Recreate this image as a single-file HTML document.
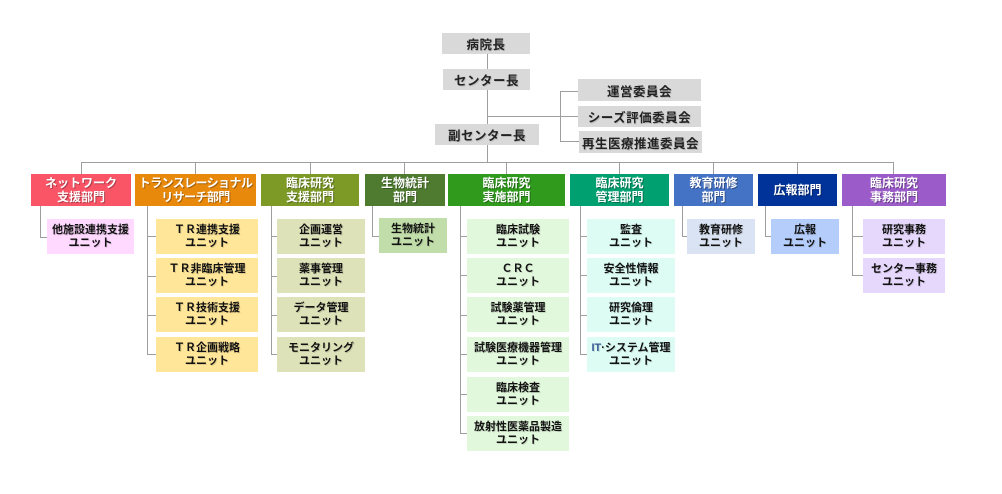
<!DOCTYPE html>
<html><head><meta charset="utf-8">
<style>
html,body{margin:0;padding:0;background:#fff;}
body{width:1002px;height:494px;position:relative;overflow:hidden;font-family:"Liberation Sans","Noto Sans CJK JP",sans-serif;font-weight:bold;}
.b{position:absolute;display:flex;align-items:center;justify-content:center;text-align:center;box-sizing:border-box;}
.top{background:#d9d9d9;color:#222;font-size:12.5px;letter-spacing:0.5px;text-shadow:1px 1px 0 rgba(0,0,0,0.12);}
.d{top:174px;height:32px;color:#fff;font-size:12px;line-height:14px;text-shadow:1px 1px 0 rgba(0,0,0,0.3);}
.u{height:35px;color:#111;font-size:11px;line-height:13px;text-shadow:1px 1px 0 rgba(0,0,0,0.12);}
.h{position:absolute;height:1px;background:#9e9e9e;}
.v{position:absolute;width:1px;background:#9e9e9e;}
</style></head><body>

<!-- top connectors -->
<div class="v" style="left:487px;top:54px;height:70px"></div>
<div class="v" style="left:487px;top:145px;height:17px"></div>
<div class="h" style="left:487px;top:116px;width:91px"></div>
<div class="v" style="left:560px;top:91px;height:50px"></div>
<div class="h" style="left:560px;top:91px;width:18px"></div>
<div class="h" style="left:560px;top:141px;width:19px"></div>
<div class="h" style="left:81px;top:162px;width:813px"></div>

<!-- drops -->
<div class="v" style="left:81px;top:162px;height:12px"></div>
<div class="v" style="left:195px;top:162px;height:12px"></div>
<div class="v" style="left:310px;top:162px;height:12px"></div>
<div class="v" style="left:404px;top:162px;height:12px"></div>
<div class="v" style="left:506px;top:162px;height:12px"></div>
<div class="v" style="left:619px;top:162px;height:12px"></div>
<div class="v" style="left:713px;top:162px;height:12px"></div>
<div class="v" style="left:797px;top:162px;height:12px"></div>
<div class="v" style="left:893px;top:162px;height:12px"></div>

<!-- top boxes -->
<div class="b top" style="left:442px;top:33px;width:88px;height:21px">病院長</div>
<div class="b top" style="left:443px;top:69px;width:87px;height:21px">センター長</div>
<div class="b top" style="left:435px;top:124px;width:104px;height:21px">副センター長</div>
<div class="b top" style="left:578px;top:79px;width:123px;height:22px">運営委員会</div>
<div class="b top" style="left:578px;top:106px;width:123px;height:21px">シーズ評価委員会</div>
<div class="b top" style="left:579px;top:131px;width:123px;height:22px">再生医療推進委員会</div>

<!-- departments -->
<div class="b d" style="left:31px;width:100px;background:#f95567">ネットワーク<br>支援部門</div>
<div class="b d" style="left:135px;width:121px;background:#e8890c;letter-spacing:-0.6px">トランスレーショナル<br>リサーチ部門</div>
<div class="b d" style="left:261px;width:98px;background:#7d9a26">臨床研究<br>支援部門</div>
<div class="b d" style="left:365px;width:80px;background:#4e7b2f">生物統計<br>部門</div>
<div class="b d" style="left:448px;width:117px;background:#2f9a1c">臨床研究<br>実施部門</div>
<div class="b d" style="left:570px;width:99px;background:#00a070">臨床研究<br>管理部門</div>
<div class="b d" style="left:674px;width:79px;background:#4472c4">教育研修<br>部門</div>
<div class="b d" style="left:758px;width:79px;background:#003399">広報部門</div>
<div class="b d" style="left:842px;width:104px;background:#9b5bc9">臨床研究<br>事務部門</div>

<!-- col1 -->
<div class="v" style="left:40px;top:206px;height:31px"></div>
<div class="h" style="left:40px;top:237px;width:7px"></div>
<div class="b u" style="left:47px;top:219px;width:87px;background:#ffd9ff">他施設連携支援<br>ユニット</div>

<!-- col2 -->
<div class="v" style="left:147px;top:206px;height:149px"></div>
<div class="h" style="left:147px;top:236px;width:9px"></div>
<div class="h" style="left:147px;top:276px;width:9px"></div>
<div class="h" style="left:147px;top:315px;width:9px"></div>
<div class="h" style="left:147px;top:354px;width:9px"></div>
<div class="b u" style="left:156px;top:219px;width:102px;background:#ffe699">ＴＲ連携支援<br>ユニット</div>
<div class="b u" style="left:156px;top:258px;width:102px;background:#ffe699">ＴＲ非臨床管理<br>ユニット</div>
<div class="b u" style="left:156px;top:297px;width:102px;background:#ffe699">ＴＲ技術支援<br>ユニット</div>
<div class="b u" style="left:156px;top:337px;width:102px;background:#ffe699">ＴＲ企画戦略<br>ユニット</div>

<!-- col3 -->
<div class="v" style="left:271px;top:206px;height:149px"></div>
<div class="h" style="left:271px;top:236px;width:6px"></div>
<div class="h" style="left:271px;top:276px;width:6px"></div>
<div class="h" style="left:271px;top:315px;width:6px"></div>
<div class="h" style="left:271px;top:354px;width:6px"></div>
<div class="b u" style="left:277px;top:219px;width:88px;background:#dde2b9">企画運営<br>ユニット</div>
<div class="b u" style="left:277px;top:258px;width:88px;background:#dde2b9">薬事管理<br>ユニット</div>
<div class="b u" style="left:277px;top:297px;width:88px;background:#dde2b9">データ管理<br>ユニット</div>
<div class="b u" style="left:277px;top:337px;width:88px;background:#dde2b9">モニタリング<br>ユニット</div>

<!-- col4 -->
<div class="v" style="left:372px;top:206px;height:30px"></div>
<div class="h" style="left:372px;top:236px;width:7px"></div>
<div class="b u" style="left:379px;top:218px;width:68px;background:#c1dda9">生物統計<br>ユニット</div>

<!-- col5 -->
<div class="v" style="left:460px;top:206px;height:228px"></div>
<div class="h" style="left:460px;top:236px;width:7px"></div>
<div class="h" style="left:460px;top:275px;width:7px"></div>
<div class="h" style="left:460px;top:315px;width:7px"></div>
<div class="h" style="left:460px;top:354px;width:7px"></div>
<div class="h" style="left:460px;top:394px;width:7px"></div>
<div class="h" style="left:460px;top:433px;width:7px"></div>
<div class="b u" style="left:467px;top:219px;width:102px;background:#e2f8dc">臨床試験<br>ユニット</div>
<div class="b u" style="left:467px;top:258px;width:102px;background:#e2f8dc">ＣＲＣ<br>ユニット</div>
<div class="b u" style="left:467px;top:297px;width:102px;background:#e2f8dc">試験薬管理<br>ユニット</div>
<div class="b u" style="left:467px;top:337px;width:102px;background:#e2f8dc">試験医療機器管理<br>ユニット</div>
<div class="b u" style="left:467px;top:377px;width:102px;background:#e2f8dc">臨床検査<br>ユニット</div>
<div class="b u" style="left:467px;top:416px;width:102px;background:#e2f8dc">放射性医薬品製造<br>ユニット</div>

<!-- col6 -->
<div class="v" style="left:580px;top:206px;height:149px"></div>
<div class="h" style="left:580px;top:236px;width:7px"></div>
<div class="h" style="left:580px;top:275px;width:7px"></div>
<div class="h" style="left:580px;top:315px;width:7px"></div>
<div class="h" style="left:580px;top:354px;width:7px"></div>
<div class="b u" style="left:587px;top:219px;width:88px;background:#dcfcf4">監査<br>ユニット</div>
<div class="b u" style="left:587px;top:258px;width:88px;background:#dcfcf4">安全性情報<br>ユニット</div>
<div class="b u" style="left:587px;top:297px;width:88px;background:#dcfcf4">研究倫理<br>ユニット</div>
<div class="b u" style="left:587px;top:337px;width:88px;background:#dcfcf4"><span><span style="color:#3a5a9a">IT</span>·システム管理<br>ユニット</span></div>

<!-- col7 -->
<div class="v" style="left:682px;top:206px;height:30px"></div>
<div class="h" style="left:682px;top:236px;width:5px"></div>
<div class="b u" style="left:687px;top:219px;width:68px;background:#dae3f3">教育研修<br>ユニット</div>

<!-- col8 -->
<div class="v" style="left:765px;top:206px;height:30px"></div>
<div class="h" style="left:765px;top:236px;width:6px"></div>
<div class="b u" style="left:771px;top:219px;width:68px;background:#b4cdfb">広報<br>ユニット</div>

<!-- col9 -->
<div class="v" style="left:852px;top:206px;height:69px"></div>
<div class="h" style="left:852px;top:236px;width:11px"></div>
<div class="h" style="left:852px;top:275px;width:11px"></div>
<div class="b u" style="left:863px;top:219px;width:82px;background:#e6d8fc">研究事務<br>ユニット</div>
<div class="b u" style="left:863px;top:258px;width:82px;background:#e6d8fc">センター事務<br>ユニット</div>

</body></html>
